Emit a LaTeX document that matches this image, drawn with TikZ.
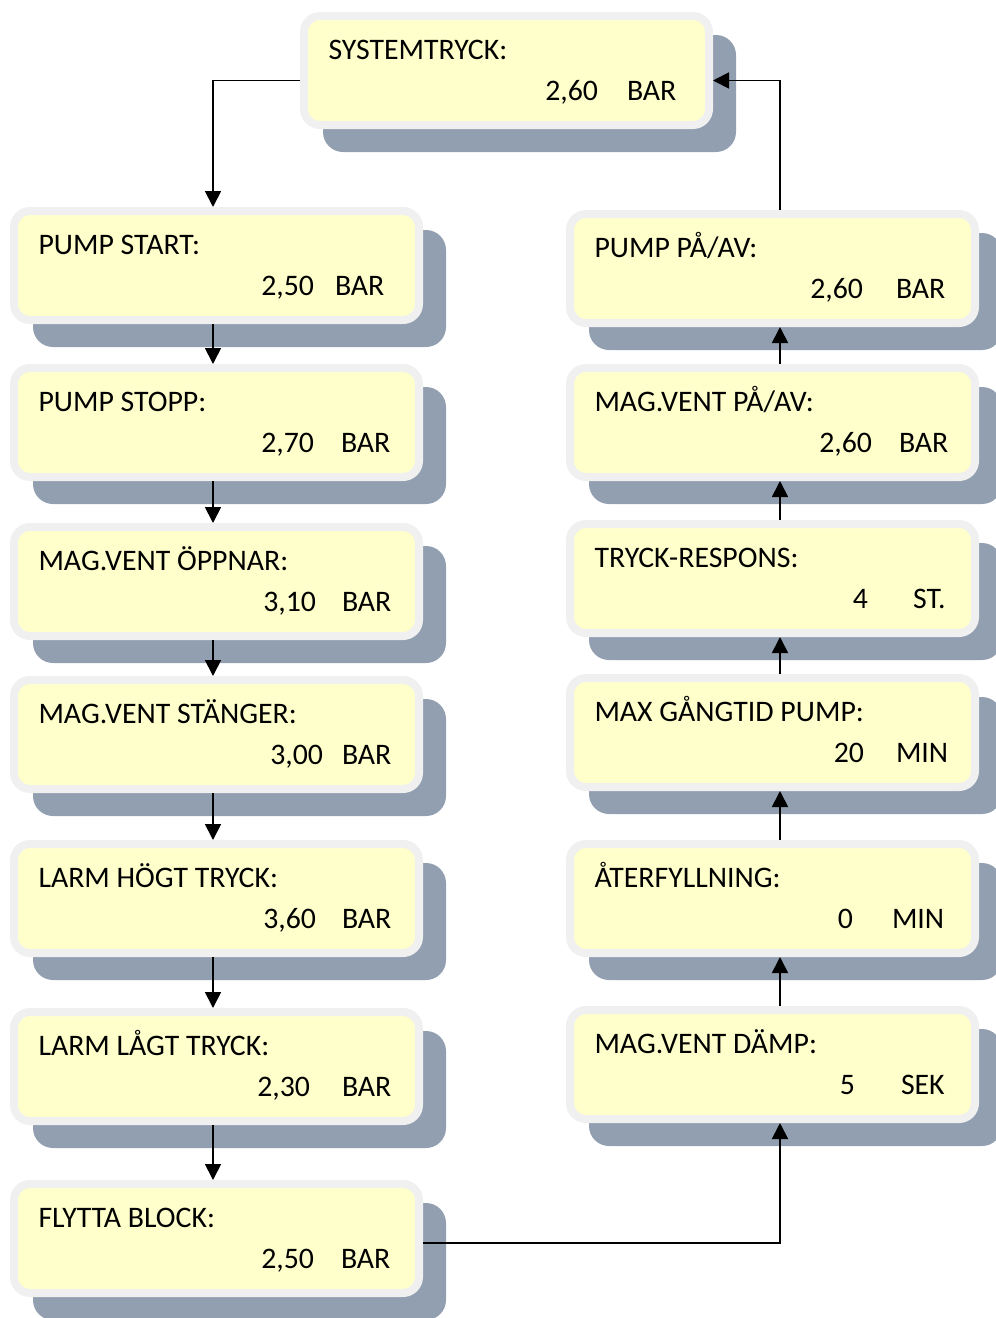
\documentclass[tikz,border=0pt]{standalone}
\usepackage{fontspec}
\setmainfont{Carlito}
\usetikzlibrary{arrows.meta,calc,backgrounds}
\definecolor{panelfill}{HTML}{FFFFCC}
\definecolor{panelrim}{HTML}{F0F0F0}
\definecolor{panelshadow}{HTML}{929FB0}
\tikzset{
  panel/.style={rectangle, draw=panelrim, fill=panelfill, line width=8pt,
    rounded corners=16pt, minimum width=405pt, minimum height=109pt, inner sep=0pt},
  shadowbox/.style={fill=panelshadow, rounded corners=20pt},
  txt/.style={inner sep=0pt, outer sep=0pt, font=\fontsize{29.8pt}{35pt}\selectfont},
  conn/.style={line width=1.8pt, -{Triangle[width=16pt,length=16pt]}},
}
\newcommand\mkpanel[8]{%
  \node[panel] (#1) at (#2+206.5,#3+58.5) {};
  \begin{scope}[on background layer]
    \fill[shadowbox] ($(#1.south west)+(23,23)$) rectangle ($(#1.north east)+(23,23)$);
  \end{scope}
  \node[txt, anchor=base west] (#1-label) at (#2+28.5,#3+47.5) {#4};
  \node[txt, anchor=base east] (#1-value) at (#6,#3+88.5) {#5};
  \node[txt, anchor=base west] (#1-unit) at (#7,#3+88.5) {#8};
}
\begin{document}
\begin{tikzpicture}[x=1pt,y=-1pt]
\useasboundingbox (0,0) rectangle (996,1318);
\coordinate (lc) at (213,0);
\coordinate (rc) at (780,0);

\mkpanel{sys}{300}{12}{SYSTEMTRYCK:}{2,60}{598}{627}{BAR}

\mkpanel{ps}{10}{207}{PUMP START:}{2,50}{314}{335}{BAR}
\mkpanel{pst}{10}{364}{PUMP STOPP:}{2,70}{314}{341}{BAR}
\mkpanel{mo}{10}{523}{MAG.VENT ÖPPNAR:}{3,10}{316}{342}{BAR}
\mkpanel{ms}{10}{676}{MAG.VENT STÄNGER:}{3,00}{323}{342}{BAR}
\mkpanel{lh}{10}{840}{LARM HÖGT TRYCK:}{3,60}{316}{342}{BAR}
\mkpanel{ll}{10}{1008}{LARM LÅGT TRYCK:}{2,30}{310}{342}{BAR}
\mkpanel{fb}{10}{1180}{FLYTTA BLOCK:}{2,50}{314}{341}{BAR}

\mkpanel{pp}{566}{210}{PUMP PÅ/AV:}{2,60}{863}{896}{BAR}
\mkpanel{mp}{566}{364}{MAG.VENT PÅ/AV:}{2,60}{872}{899}{BAR}
\mkpanel{tr}{566}{520}{TRYCK-RESPONS:}{4}{868}{913}{ST.}
\mkpanel{mg}{566}{674}{MAX GÅNGTID PUMP:}{20}{864}{896}{MIN}
\mkpanel{af}{566}{840}{ÅTERFYLLNING:}{0}{853}{892}{MIN}
\mkpanel{md}{566}{1006}{MAG.VENT DÄMP:}{5}{855}{901}{SEK}

% connectors
\draw[conn] ($(sys.west)+(0,10)$) -| (ps.north -| lc);
\draw[conn] (ps.south -| lc) -- (pst.north -| lc);
\draw[conn] (pst.south -| lc) -- (mo.north -| lc);
\draw[conn] (mo.south -| lc) -- (ms.north -| lc);
\draw[conn] (ms.south -| lc) -- (lh.north -| lc);
\draw[conn] (lh.south -| lc) -- (ll.north -| lc);
\draw[conn] (ll.south -| lc) -- (fb.north -| lc);
\draw[conn] ($(fb.east)+(0,4.5)$) -| (md.south -| rc);
\draw[conn] (md.north -| rc) -- (af.south -| rc);
\draw[conn] (af.north -| rc) -- (mg.south -| rc);
\draw[conn] (mg.north -| rc) -- (tr.south -| rc);
\draw[conn] (tr.north -| rc) -- (mp.south -| rc);
\draw[conn] (mp.north -| rc) -- (pp.south -| rc);
\draw[conn] (pp.north -| rc) |- ($(sys.east)+(0,10)$);
\end{tikzpicture}
\end{document}
